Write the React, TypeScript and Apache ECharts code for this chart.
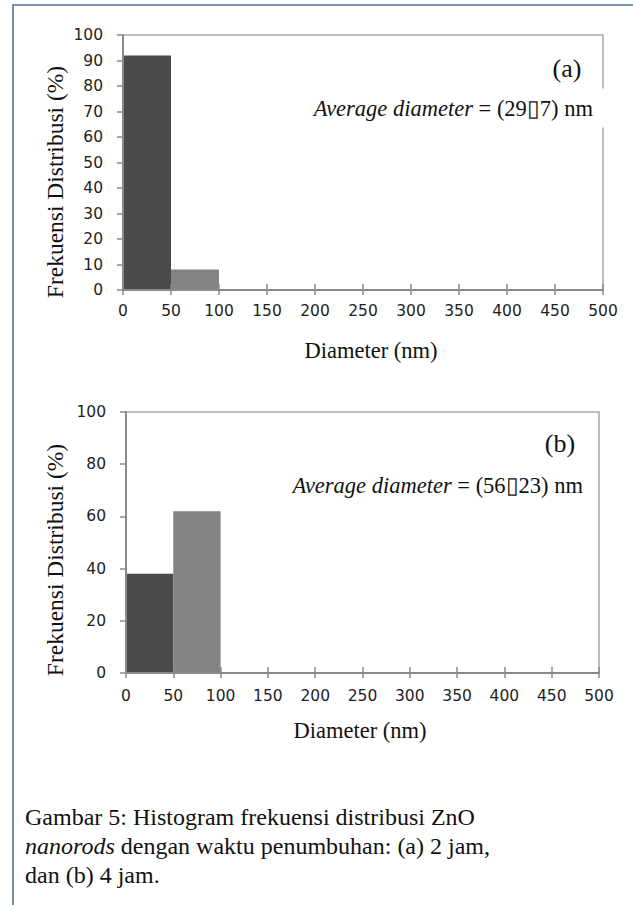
import React, { useEffect, useRef } from "react";
import * as echarts from "echarts";

// ---- data ----
const binStarts = [0, 50];
const binEnds = [50, 100];
const freqA = [92, 8];
const freqB = [38, 62];
const xMin = 0;
const xMax = 500;
const xStep = 50;
const yMax = 100;
const yStepA = 10;
const yStepB = 20;
const yTitle = "Frekuensi Distribusi (%)";
const xTitle = "Diameter (nm)";
const avgA = "(29\u25AF7) nm";
const avgB = "(56\u25AF23) nm";
const captionLines = [
  "Gambar 5: Histogram frekuensi distribusi ZnO",
  "{i|nanorods} dengan waktu penumbuhan: (a) 2 jam,",
  "dan (b) 4 jam.",
];

// ---- style ----
const barColors = ["#4a4a4a", "#838383"];
const SANS = "DejaVu Sans";
const SERIF = "Liberation Serif";
const axisLineColor = "#8a8a8a";
const labelColor = "#1e1e1e";

const grids = [
  { left: 123, top: 35, width: 480, height: 255 },
  { left: 126, top: 412, width: 473, height: 261 },
];

export default function App() {
  const ref = useRef<HTMLDivElement>(null);
  useEffect(() => {
    if (!ref.current) return;
    const chart = echarts.init(ref.current, undefined, { renderer: "svg" });

    const mkData = (vals: number[]) =>
      vals.map((v, i) => [binStarts[i], binEnds[i], v]);

    const xAxes: any[] = [];
    const yAxes: any[] = [];
    const series: any[] = [];
    [freqA, freqB].forEach((vals, gi) => {
      const margin = gi === 0 ? 13 : 15;
      xAxes.push({
        type: "value",
        gridIndex: gi,
        min: xMin,
        max: xMax,
        interval: xStep,
        position: "bottom",
        axisLine: { show: true, lineStyle: { color: axisLineColor, width: 2 } },
        axisTick: { show: true, length: 5, lineStyle: { color: axisLineColor, width: 1.5 } },
        axisLabel: { show: true, margin, fontFamily: SANS, fontSize: 15.5, color: labelColor },
        splitLine: { show: false },
        z: 3,
      });
      xAxes.push({
        type: "value",
        gridIndex: gi,
        min: xMin,
        max: xMax,
        interval: xStep,
        position: "bottom",
        axisLine: { show: false },
        axisTick: { show: true, inside: true, length: 6, lineStyle: { color: axisLineColor, width: 1.5 } },
        axisLabel: { show: false },
        splitLine: { show: false },
        z: 3,
      });
      yAxes.push({
        type: "value",
        gridIndex: gi,
        min: 0,
        max: yMax,
        interval: gi === 0 ? yStepA : yStepB,
        axisLine: { show: true, lineStyle: { color: axisLineColor, width: 2 } },
        axisTick: { show: true, length: 6, lineStyle: { color: axisLineColor, width: 1.5 } },
        axisLabel: { show: true, margin: 20, fontFamily: SANS, fontSize: 15.5, color: labelColor },
        splitLine: { show: false },
        z: 3,
      });
      series.push({
        type: "custom",
        xAxisIndex: gi * 2,
        yAxisIndex: gi,
        data: mkData(vals),
        encode: { x: [0, 1], y: 2 },
        renderItem: (params: any, api: any) => {
          const s = api.value(0);
          const e = api.value(1);
          const v = api.value(2);
          const p0 = api.coord([s, v]);
          const p1 = api.coord([e, 0]);
          return {
            type: "rect",
            shape: { x: p0[0], y: p0[1], width: p1[0] - p0[0], height: p1[1] - p0[1] },
            style: { fill: barColors[params.dataIndex % barColors.length] },
          };
        },
        z: 2,
      });
    });

    const serifText = (x: number, y: number, text: string, size: number, extra: any = {}) => ({
      type: "text",
      x,
      y,
      z: 10,
      ...extra,
      style: {
        text,
        fontFamily: SERIF,
        fontSize: size,
        fill: "#111",
        align: "center",
        verticalAlign: "middle",
        ...(extra.style || {}),
      },
    });

    const annot = (xRight: number, y: number, value: string, bg: boolean) => ({
      type: "text",
      x: xRight,
      y,
      z: 10,
      style: {
        text: "{i|Average diameter} = " + value,
        fontFamily: SERIF,
        fontSize: 22.5,
        fill: "#111",
        align: "right",
        verticalAlign: "middle",
        backgroundColor: bg ? "#ffffff" : "transparent",
        padding: bg ? [8, 14, 8, 4] : 0,
        rich: {
          i: { fontStyle: "italic", fontFamily: SERIF, fontSize: 22.5, fill: "#111" },
        },
      },
    });

    const graphic: any[] = [
      {
        type: "polyline",
        z: 20,
        shape: { points: [[13, 905], [13, 5], [633, 5]] },
        style: { stroke: "#52709a", lineWidth: 1.6, fill: "none" },
      },
      serifText(55, 182, yTitle, 23.5, { rotation: Math.PI / 2 }),
      serifText(55, 560, yTitle, 23.5, { rotation: Math.PI / 2 }),
      serifText(371, 350, xTitle, 22.5),
      serifText(360, 730, xTitle, 22.5),
      serifText(567, 68, "(a)", 26),
      serifText(560, 443, "(b)", 26),
      annot(607, 108, avgA, true),
      annot(583, 485, avgB, false),
    ];
    captionLines.forEach((line, i) => {
      graphic.push({
        type: "text",
        x: 25,
        y: 817 + i * 29,
        z: 10,
        style: {
          text: line,
          fontFamily: SERIF,
          fontSize: 24,
          fill: "#111",
          align: "left",
          verticalAlign: "middle",
          rich: { i: { fontStyle: "italic", fontFamily: SERIF, fontSize: 24, fill: "#111" } },
        },
      });
    });

    chart.setOption({
      animation: false,
      backgroundColor: "#ffffff",
      grid: grids.map((g) => ({
        ...g,
        show: true,
        borderColor: "#a8a8a8",
        borderWidth: 1.5,
        backgroundColor: "transparent",
      })),
      xAxis: xAxes,
      yAxis: yAxes,
      series,
      graphic,
    });
    return () => chart.dispose();
  }, []);

  return (
    <div
      ref={ref}
      style={{ position: "absolute", left: 0, top: 0, width: 633, height: 905, background: "#fff" }}
    />
  );
}
